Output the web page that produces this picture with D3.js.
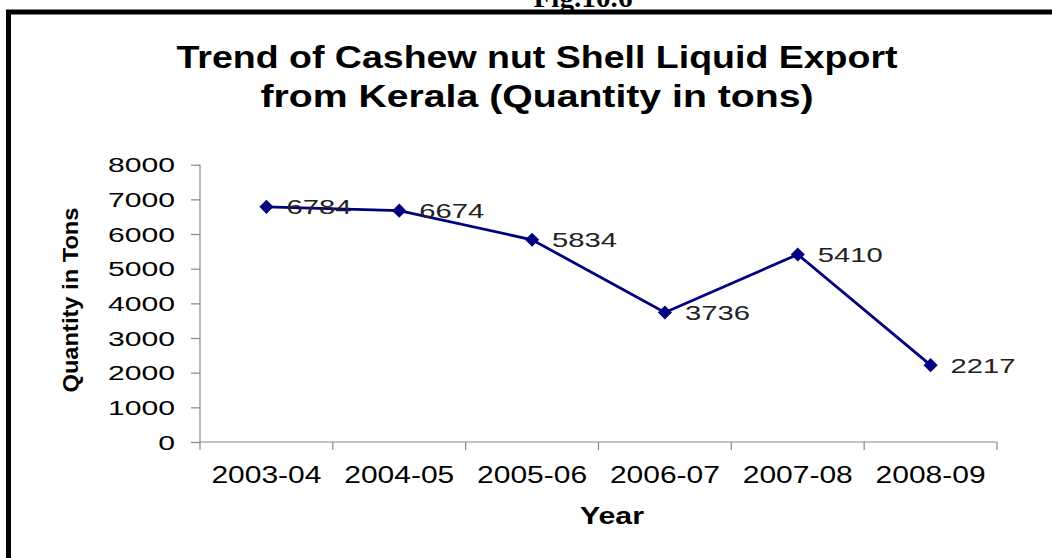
<!DOCTYPE html>
<html><head><meta charset="utf-8">
<script src="https://cdn.jsdelivr.net/npm/d3@7/dist/d3.min.js"></script>
<style>html,body{margin:0;padding:0;background:#fff;}svg{display:block;}</style>
</head><body>
<script>
const years = ["2003-04","2004-05","2005-06","2006-07","2007-08","2008-09"];
const quantity = [6784, 6674, 5834, 3736, 5410, 2217];
const yTicks = [0,1000,2000,3000,4000,5000,6000,7000,8000];
const titleLines = ["Trend of Cashew nut Shell Liquid Export","from Kerala (Quantity in tons)"];
const xTitle = "Year", yTitle = "Quantity in Tons", figLabel = "Fig.10.6";

const W = 1052, H = 558;
const svg = d3.select("body").append("svg").attr("width", W).attr("height", H);
svg.append("rect").attr("width", W).attr("height", H).attr("fill", "#fff");

// frame
svg.append("path").attr("d", "M8.5,558 V12 H1052").attr("fill","none").attr("stroke","#000").attr("stroke-width",5);

// fig label (cropped at top, as in the reference)
svg.append("text").attr("x", 583).attr("y", 7).attr("text-anchor","middle")
  .attr("font-family","'Liberation Serif','Times New Roman',serif").attr("font-weight","bold")
  .attr("font-size", 28).attr("textLength", 99).attr("lengthAdjust","spacingAndGlyphs").text(figLabel);

const font = "'Liberation Sans', Arial, sans-serif";
// title
const tl = [{t:titleLines[0], y:68, w:721},{t:titleLines[1], y:107, w:553}];
svg.selectAll("text.title").data(tl).join("text").attr("class","title")
  .attr("x", 537).attr("y", d=>d.y).attr("text-anchor","middle")
  .attr("font-family", font).attr("font-weight","bold").attr("font-size", 32)
  .attr("textLength", d=>d.w).attr("lengthAdjust","spacingAndGlyphs").text(d=>d.t);

const x = d3.scaleBand().domain(years).range([200, 997]);
const y = d3.scaleLinear().domain([0, 8000]).range([442, 164.7]);

// y axis
const gy = svg.append("g").attr("transform","translate(200,0)")
  .call(d3.axisLeft(y).tickValues(yTicks).tickSize(9).tickPadding(16).tickFormat(d3.format("d")));
gy.selectAll("path,line").attr("stroke","#888").attr("stroke-width",1.2);
gy.selectAll("text").attr("font-family", font).attr("font-size", 20).attr("fill","#000")
  .attr("textLength", d => String(d).length * 16.75).attr("lengthAdjust","spacingAndGlyphs").attr("dy","0.36em");
gy.select(".domain").attr("d","M0,442V164.7");

// x axis
const gx = svg.append("g").attr("transform","translate(0,442)")
  .call(d3.axisBottom(x).tickSize(0).tickPadding(0));
gx.select(".domain").attr("stroke","#888").attr("stroke-width",1.2).attr("d","M200,0H997");
gx.selectAll(".tick line").remove();
const bounds = years.map(d => x(d)).concat([x.range()[1]]);
gx.selectAll("line.sep").data(bounds).join("line").attr("class","sep")
  .attr("x1", d=>d).attr("x2", d=>d).attr("y1",0).attr("y2",8).attr("stroke","#888").attr("stroke-width",1.2);
gx.selectAll(".tick").attr("transform", d => `translate(${x(d)+x.bandwidth()/2},0)`);
gx.selectAll(".tick text").attr("y", 41).attr("dy", 0).attr("font-family", font).attr("font-size", 23).attr("fill","#000")
  .attr("textLength", 110).attr("lengthAdjust","spacingAndGlyphs");

// axis titles
svg.append("text").attr("x", 612).attr("y", 524).attr("text-anchor","middle")
  .attr("font-family", font).attr("font-weight","bold").attr("font-size", 23)
  .attr("textLength", 64).attr("lengthAdjust","spacingAndGlyphs").text(xTitle);
svg.append("text").attr("transform","translate(78,300) rotate(-90)").attr("text-anchor","middle")
  .attr("font-family", font).attr("font-weight","bold").attr("font-size", 22)
  .attr("textLength", 185).attr("lengthAdjust","spacingAndGlyphs").text(yTitle);

// line
const cx = d => x(d) + x.bandwidth()/2;
const pts = years.map((d,i) => [cx(d), y(quantity[i])]);
svg.append("path").attr("d", d3.line()(pts)).attr("fill","none").attr("stroke","#000080").attr("stroke-width",2.8);

// markers
svg.selectAll("path.mk").data(pts).join("path").attr("class","mk")
  .attr("d", d3.symbol().type(d3.symbolSquare).size(100))
  .attr("transform", d => `translate(${d[0]},${d[1]}) rotate(45)`).attr("fill","#000080");

// data labels
svg.selectAll("text.lbl").data(quantity).join("text").attr("class","lbl")
  .attr("x", (d,i) => pts[i][0] + 20).attr("y", (d,i) => pts[i][1]).attr("dy","0.36em")
  .attr("font-family", font).attr("font-size", 21).attr("fill","#222")
  .attr("textLength", 65).attr("lengthAdjust","spacingAndGlyphs").text(d => d);
</script>
</body></html>
